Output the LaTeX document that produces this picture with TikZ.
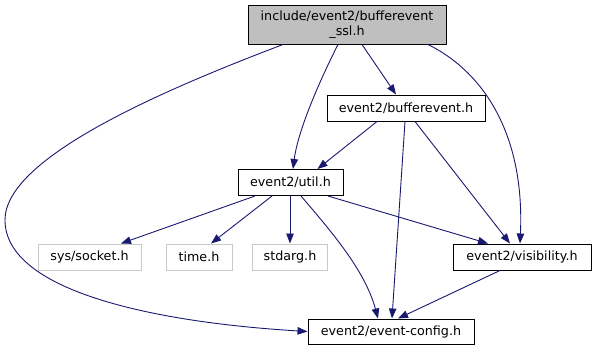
\documentclass[tikz,border=0pt]{standalone}
\usepackage{fontspec}
\setmainfont{DejaVu Sans}
\usetikzlibrary{arrows.meta}
\definecolor{EdgeBlue}{HTML}{191970}
\definecolor{HeadGray}{HTML}{BFBFBF}
\definecolor{SysGray}{HTML}{C8C8C8}

\begin{document}
\begin{tikzpicture}[
    x=1pt, y=-1pt,
    incfile/.style={
      draw=black,
      line width=1pt,
      inner sep=0pt,
      minimum height=26pt,
      font=\fontsize{12.7}{15}\selectfont,
      align=center
    },
    sysfile/.style={incfile,draw=SysGray},
    dep/.style={draw=EdgeBlue,line width=0.9pt,-{Triangle[length=10pt,width=7.5pt]}}
  ]
  \useasboundingbox (0,0) rectangle (597,351);
  \node[incfile,fill=HeadGray,minimum width=198pt,minimum height=39pt] (sslh) at (347,24.5)
    {include/event2/bufferevent\\\_ssl.h};
  \node[incfile,minimum width=158pt] (bevh) at (406,108) {event2/bufferevent.h};
  \node[incfile,minimum width=105pt] (utilh) at (290.5,182.5) {event2/util.h};
  \node[sysfile,minimum width=103pt] (socketh) at (89.5,257) {sys/socket.h};
  \node[sysfile,minimum width=66pt] (timeh) at (199,257) {time.h};
  \node[sysfile,minimum width=75pt] (stdargh) at (290,257) {stdarg.h};
  \node[incfile,minimum width=138pt] (vish) at (522,257) {event2/visibility.h};
  \node[incfile,minimum width=166pt,minimum height=25pt] (configh) at (391,331.5) {event2/event-config.h};

  % from the header itself
  \draw[dep] ([xshift=-64pt]sslh.south) .. controls (150,95) and (5,160) .. (5,220)
    .. controls (5,290) and (150,322) .. (configh.west);
  \draw[dep] ([xshift=-9pt]sslh.south) .. controls (320,80) and (298,130) .. ([xshift=2.5pt]utilh.north);
  \draw[dep] ([xshift=15pt]sslh.south) -- ([xshift=-10pt]bevh.north);
  \draw[dep] ([xshift=81pt]sslh.south) .. controls (480,70) and (525,130) .. ([xshift=-2pt]vish.north);

  % from bufferevent.h
  \draw[dep] ([xshift=-29pt]bevh.south) -- ([xshift=27pt]utilh.north);
  \draw[dep] ([xshift=-1pt]bevh.south) -- ([xshift=1pt]configh.north);
  \draw[dep] ([xshift=9pt]bevh.south) -- ([xshift=-12pt]vish.north);

  % from util.h
  \draw[dep] ([xshift=-35.5pt]utilh.south) -- ([xshift=31.5pt]socketh.north);
  \draw[dep] ([xshift=-18.5pt]utilh.south) -- ([xshift=12pt]timeh.north);
  \draw[dep] ([xshift=-0.5pt]utilh.south) -- (stdargh.north);
  \draw[dep] ([xshift=37.5pt]utilh.south) -- ([xshift=-34pt]vish.north);
  \draw[dep] ([xshift=10.5pt]utilh.south) .. controls (330,230) and (365,270) .. ([xshift=-13pt]configh.north);

  % from visibility.h
  \draw[dep] ([xshift=-22pt]vish.south) -- ([xshift=7pt]configh.north);
\end{tikzpicture}
\end{document}
